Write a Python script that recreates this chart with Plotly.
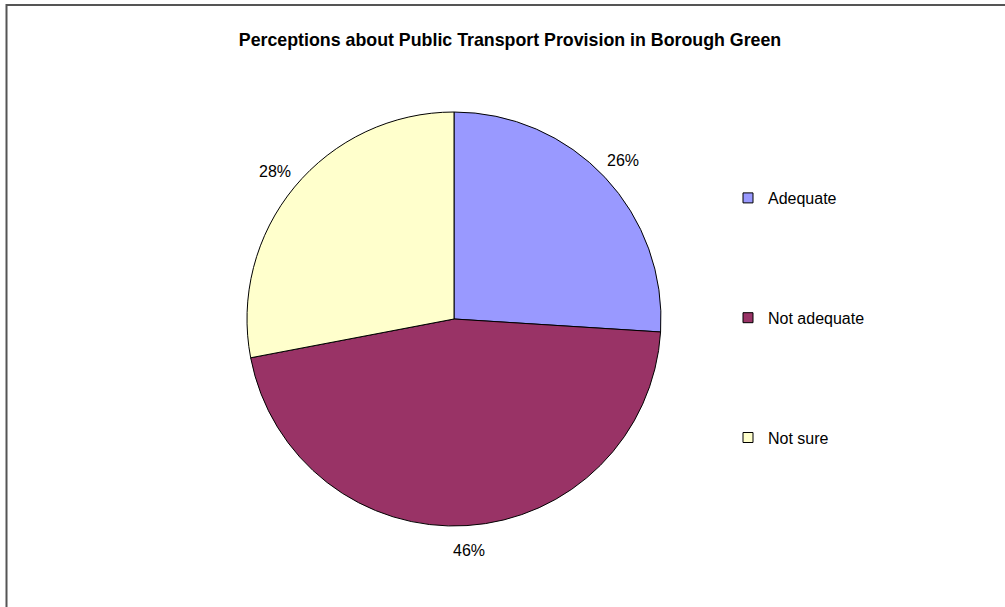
import math
import plotly.graph_objects as go

labels = ["Adequate", "Not adequate", "Not sure"]
values = [26, 46, 28]
colors = ["#9999FF", "#993366", "#FFFFCC"]
title_text = "Perceptions about Public Transport Provision in Borough Green"

W, H = 1005, 607
cx, cy, R = 454, 319, 207
label_r = 232

fig = go.Figure()
fig.add_trace(go.Pie(
    labels=labels, values=values, sort=False, direction="clockwise",
    rotation=0, textinfo="none", hoverinfo="label+percent",
    marker=dict(colors=colors, line=dict(color="#000000", width=1)),
    domain=dict(x=[(cx - R) / W, (cx + R) / W], y=[1 - (cy + R) / H, 1 - (cy - R) / H]),
    showlegend=False,
))

# percentage labels placed outside each slice at its mid-angle
total = sum(values)
cum = 0
for v in values:
    mid = (cum + v / 2) / total * 2 * math.pi
    cum += v
    px = cx + label_r * math.sin(mid)
    py = cy - label_r * math.cos(mid)
    fig.add_annotation(x=px / W, y=1 - py / H, xref="paper", yref="paper",
                       text=f"{round(v / total * 100)}%", showarrow=False,
                       font=dict(family="Liberation Sans, Arial", size=16, color="#000000"),
                       xanchor="center", yanchor="middle")

# legend entries
for i, (lab, col) in enumerate(zip(labels, colors)):
    fig.add_trace(go.Scatter(
        x=[None], y=[None], mode="markers", name=lab, legendgroup=str(i),
        marker=dict(symbol="square", size=10, color=col, line=dict(color="#000000", width=1)),
    ))

fig.add_shape(type="rect", xref="paper", yref="paper",
              x0=6.5 / W, x1=1.2, y0=-0.2, y1=1 - 5 / H,
              line=dict(color="#555555", width=2), fillcolor="rgba(0,0,0,0)")

fig.update_layout(
    width=W, height=H,
    margin=dict(l=0, r=0, t=0, b=0),
    paper_bgcolor="#FFFFFF", plot_bgcolor="#FFFFFF",
    title=dict(text=f"<b>{title_text}</b>", x=510 / W, xanchor="center",
               y=1 - 40 / H, yanchor="middle",
               font=dict(family="Liberation Sans, Arial", size=17.8, color="#000000")),
    xaxis=dict(visible=False), yaxis=dict(visible=False),
    legend=dict(x=728 / W, y=1 - 181 / H, xanchor="left", yanchor="top",
                tracegroupgap=96, font=dict(family="Liberation Sans, Arial", size=16, color="#000000"),
                bgcolor="rgba(0,0,0,0)", itemclick=False, itemdoubleclick=False),
)

fig.write_html("out.html", config={"displayModeBar": False},
               post_script="document.body.style.margin='0';document.body.style.overflow='hidden';")
